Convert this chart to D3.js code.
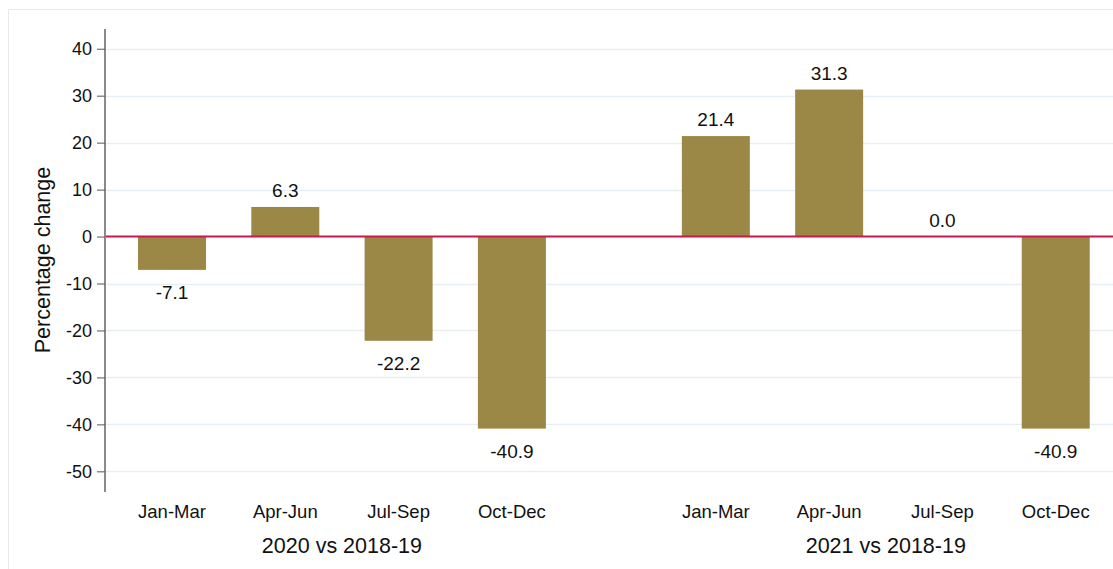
<!DOCTYPE html>
<html>
<head>
<meta charset="utf-8">
<script src="https://cdn.jsdelivr.net/npm/d3@7"></script>
<style>
	body { margin: 0; background: #fff; }
	svg { display: block; font-family: "Liberation Sans", Arial, sans-serif; }
</style>
</head>
<body>
<svg id="chart" width="1113" height="569"></svg>
<script>
// data
const periods = ['Jan-Mar', 'Apr-Jun', 'Jul-Sep', 'Oct-Dec']
const groups = ['2020 vs 2018-19', '2021 vs 2018-19']
const values2020 = [-7.1, 6.3, -22.2, -40.9]
const values2021 = [21.4, 31.3, 0.0, -40.9]
const yTicks = [40, 30, 20, 10, 0, -10, -20, -30, -40, -50]

const seriesByGroup = [values2020, values2021]

// layout
const axisX = 105
const yTop = 29, yBottom = 492
const groupGap = 0.8 // extra slots between the two groups
const barWidth = 68
const barColor = '#9c8846'

// plain hyphen for negatives, like the original
const locale = d3.formatLocale({ decimal: '.', thousands: ',', grouping: [3], currency: ['', ''], minus: '-' })
const fmtValue = locale.format('.1f')
const fmtTick = locale.format('d')

const svg = d3.select('#chart')

// frame
svg.append('path')
	.attr('d', 'M8.5,569 V9.5 H1113')
	.attr('fill', 'none')
	.attr('stroke', '#e5ebed')
	.attr('stroke-width', 1)

const y = d3.scaleLinear()
	.domain([-54.4, 44.2])
	.range([yBottom, yTop])

const x = d3.scaleLinear()
	.domain([0, 1])
	.range([172, 285.3])

// flatten to bars
var bars = []
seriesByGroup.forEach((vals, g) => {
	vals.forEach((v, i) => {
		bars.push({ group: g, period: periods[i], value: v, slot: g * (periods.length + groupGap) + i })
	})
})

// gridlines
svg.append('g')
	.selectAll('line')
	.data(yTicks.filter(t => t !== 0))
	.join('line')
	.attr('x1', axisX)
	.attr('x2', 1113)
	.attr('y1', d => Math.round(y(d)) + 0.5)
	.attr('y2', d => Math.round(y(d)) + 0.5)
	.attr('stroke', '#e6eff3')
	.attr('stroke-width', 1.5)

// bars
svg.append('g')
	.selectAll('rect')
	.data(bars)
	.join('rect')
	.attr('x', d => x(d.slot) - barWidth / 2)
	.attr('width', barWidth)
	.attr('y', d => y(Math.max(0, d.value)))
	.attr('height', d => Math.abs(y(d.value) - y(0)))
	.attr('fill', barColor)

// zero line
svg.append('line')
	.attr('x1', axisX)
	.attr('x2', 1113)
	.attr('y1', y(0))
	.attr('y2', y(0))
	.attr('stroke', '#c8194a')
	.attr('stroke-width', 2)

// value labels
svg.append('g')
	.selectAll('text')
	.data(bars)
	.join('text')
	.attr('x', d => x(d.slot))
	.attr('y', d => d.value >= 0 ? y(d.value) - 10 : y(d.value) + 29)
	.attr('text-anchor', 'middle')
	.attr('font-size', 19)
	.attr('fill', '#111')
	.text(d => fmtValue(d.value))

// y axis
const yAxis = d3.axisLeft(y)
	.tickValues(yTicks)
	.tickSize(8)
	.tickPadding(5)
	.tickFormat(fmtTick)

const gy = svg.append('g')
	.attr('transform', `translate(${axisX},0)`)
	.call(yAxis)

gy.select('.domain')
	.attr('d', `M0,${yTop}V${yBottom}`)
	.attr('stroke', '#8a8a8a')
	.attr('stroke-width', 2)
gy.selectAll('.tick line').attr('stroke', '#555').attr('stroke-width', 1)
gy.selectAll('.tick text')
	.attr('font-size', 18)
	.attr('font-family', '"Liberation Sans", Arial, sans-serif')
	.attr('fill', '#111')

// y title
svg.append('text')
	.attr('transform', 'translate(50,260) rotate(-90)')
	.attr('text-anchor', 'middle')
	.attr('font-size', 21.5)
	.attr('fill', '#111')
	.text('Percentage change')

// category labels
svg.append('g')
	.selectAll('text')
	.data(bars)
	.join('text')
	.attr('x', d => x(d.slot))
	.attr('y', 518)
	.attr('text-anchor', 'middle')
	.attr('font-size', 18.5)
	.attr('fill', '#111')
	.text(d => d.period)

// group labels
svg.append('g')
	.selectAll('text')
	.data(groups)
	.join('text')
	.attr('x', (d, g) => {
		const first = g * (periods.length + groupGap)
		return (x(first) + x(first + periods.length - 1)) / 2
	})
	.attr('y', 553)
	.attr('text-anchor', 'middle')
	.attr('font-size', 21.5)
	.attr('fill', '#111')
	.text(d => d)
</script>
</body>
</html>
